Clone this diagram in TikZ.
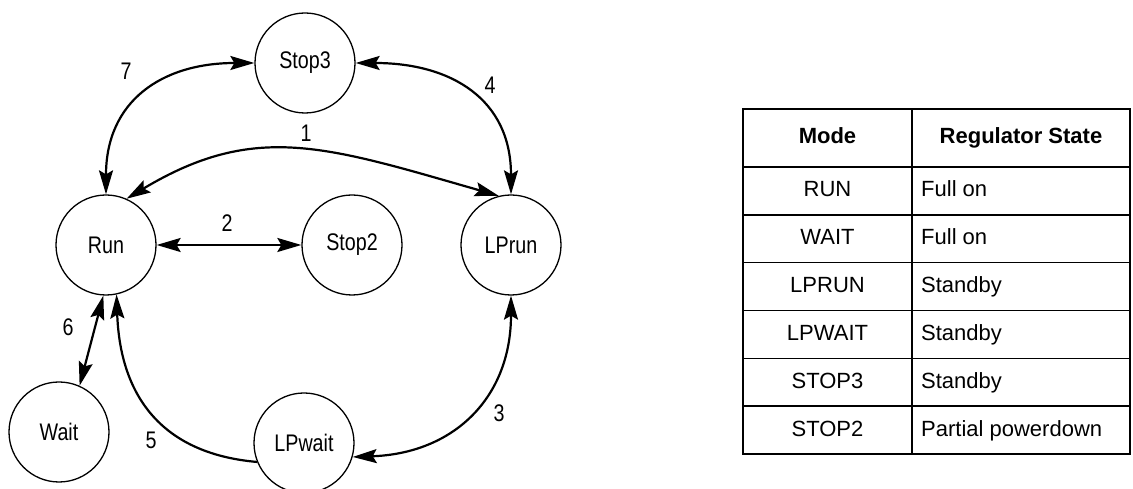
\documentclass[tikz,border=0pt]{standalone}
\usepackage{fontspec}
\setmainfont{Liberation Sans}
\newfontfamily\narrowsf[FakeStretch=0.82]{Liberation Sans}
\usetikzlibrary{arrows.meta,math}

\tikzset{
  state/.style={draw, circle, line width=1.3pt, minimum size=100pt, inner sep=0pt,
    font=\narrowsf\fontsize{24}{24}\selectfont},
  trans/.style={line width=2.2pt},
  tlabel/.style={font=\narrowsf\fontsize{24}{24}\selectfont},
  cell/.style={font=\fontsize{22}{22}\selectfont, text height=16pt, text depth=4pt, inner sep=0pt},
  headcell/.style={cell, font=\fontsize{22}{22}\selectfont\bfseries}
}

\begin{document}
\begin{tikzpicture}[x=1pt, y=1pt, >={Stealth[length=24pt,width=14pt,inset=4pt]}]
  \useasboundingbox (0,0) rectangle (1133,489);
  \tikzmath{%
    \colL = 743; \colM = 912; \colR = 1130;
    \rowTop = 380; \rowHead = 322; \rowBot = 35;
    \rowH = (\rowHead - \rowBot)/6;
  }

  % states
  \node[state] (stop3) at (305,426) {Stop3};
  \node[state] (run) at (106,244) {Run};
  \node[state] (stop2) at (352,244) {Stop2};
  \node[state] (lprun) at (511,244) {LPrun};
  \node[state] (wait) at (59,57) {Wait};
  \node[state] (lpwait) at (304,46) {LPwait};

  % transitions
  \draw[trans, <->] (run.north) to[out=90, in=180, looseness=1.2] (stop3.west);
  \draw[trans, <->] (stop3.east) to[out=0, in=90, looseness=1.2] (lprun.north);
  \draw[trans, <->] (run.66) .. controls +(31:150) and +(164:180) .. (lprun.104);
  \draw[trans, <->] (run.east) -- (stop2.west);
  \draw[trans, <->] (run.-93) -- (wait.66);
  \draw[trans, ->] (lpwait.202) to[out=175, in=-88, looseness=1.15] (run.-78);
  \draw[trans, <->] (lprun.south) to[out=-90, in=2, looseness=1.15] (lpwait.-16);

  \node[tlabel] (l1) at (306,356) {1};
  \node[tlabel] (l2) at (227,266) {2};
  \node[tlabel] (l3) at (499,76) {3};
  \node[tlabel] (l4) at (490,404) {4};
  \node[tlabel] (l5) at (151,49) {5};
  \node[tlabel] (l6) at (68,162) {6};
  \node[tlabel] (l7) at (126,418) {7};

  % regulator table
  \draw[line width=1.4pt] (\colL,\rowTop) rectangle (\colR,\rowBot);
  \draw[line width=1.4pt] (\colM,\rowTop) -- (\colM,\rowBot);
  \draw[line width=1.4pt] (\colL,\rowHead) -- (\colR,\rowHead);
  \foreach \i in {1,...,5}
    \draw[line width=1.4pt] (\colL,{\rowHead-\i*\rowH}) -- (\colR,{\rowHead-\i*\rowH});

  \node[headcell] (hmode) at ({(\colL+\colM)/2},{(\rowTop+\rowHead)/2}) {Mode};
  \node[headcell] (hstate) at ({(\colM+\colR)/2},{(\rowTop+\rowHead)/2}) {Regulator State};
  \foreach \m/\s [count=\i] in {RUN/Full on, WAIT/Full on, LPRUN/Standby,
      LPWAIT/Standby, STOP3/Standby, STOP2/Partial powerdown} {
    \node[cell] (mode\i) at ({(\colL+\colM)/2},{\rowHead-(\i-0.5)*\rowH}) {\m};
    \node[cell, anchor=west] (state\i) at (\colM+9,{\rowHead-(\i-0.5)*\rowH}) {\s};
  }
\end{tikzpicture}
\end{document}
